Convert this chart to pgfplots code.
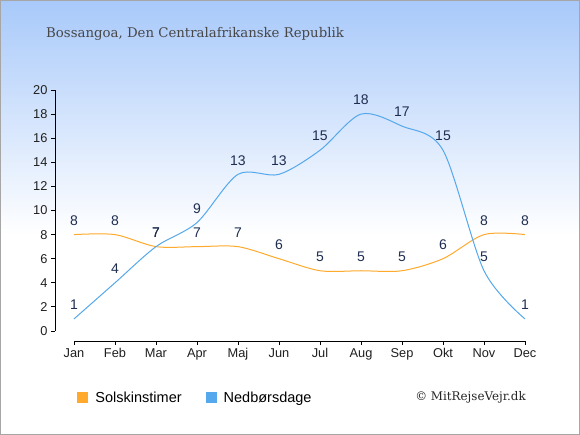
\documentclass[border=0pt]{standalone}
\usepackage{pgfplots}
\pgfplotsset{compat=1.18}
\usepackage{fontspec}
\setmainfont{Liberation Sans}
\newfontfamily\titlefont{DejaVu Serif}
\definecolor{bgtop}{RGB}{168,201,250}
\definecolor{sunline}{RGB}{255,170,45}
\definecolor{sunleg}{RGB}{255,153,0}
\definecolor{rainline}{RGB}{85,168,236}
\definecolor{rainleg}{RGB}{40,145,230}
\definecolor{lbl}{RGB}{30,45,80}
\begin{document}
\begin{tikzpicture}[x=1pt,y=1pt]
\fill[white] (0,0) rectangle (580,435);
\shade[top color=bgtop, bottom color=white] (0,200) rectangle (580,435);
\draw[gray!70, line width=1pt] (0.5,0.5) rectangle (579.5,434.5);
\node[anchor=base west, inner sep=0pt, text=black!72, font=\titlefont\fontsize{13.3}{16}\selectfont] at (46,397.5) {Bossangoa, Den Centralafrikanske Republik};
\node[anchor=east, inner sep=0pt, text=black!85, font=\titlefont\fontsize{11.9}{13}\selectfont] at (526,38) {© MitRejseVejr.dk};
\begin{axis}[
  at={(55pt,94pt)}, anchor=south west,
  scale only axis, width=470pt, height=251pt,
  xmin=-0.463, xmax=11, ymin=-0.83, ymax=20,
  axis x line*=bottom, axis y line*=left,
  axis line style={-, black, line width=0.8pt},
  x axis line style={shorten <=19pt},
  y axis line style={shorten <=10pt},
  xtick={0,...,11},
  xticklabels={Jan,Feb,Mar,Apr,Maj,Jun,Jul,Aug,Sep,Okt,Nov,Dec},
  ytick={0,2,...,20},
  tick align=outside, major tick length=4pt,
  tick style={black, line width=0.8pt},
  ticklabel style={font=\fontsize{12.8}{14}\selectfont, text=black!88},
  /pgf/number format/assume math mode=true,
  nodes near coords,
  every node near coord/.append style={anchor=center, yshift=14pt, text=lbl, font=\fontsize{14}{16}\selectfont},
  legend columns=2,
  legend style={at={(0.0474,-0.227)}, anchor=west, draw=none, fill=none, inner sep=0pt,
    font=\fontsize{14.5}{16}\selectfont,
    /tikz/every odd column/.append style={column sep=5pt},
    /tikz/every even column/.append style={column sep=22pt}},
  legend image code/.code={\fill[#1] (0pt,-5pt) rectangle (10pt,5pt);},
  clip=false,
]
\addplot[sunline, line width=1pt, smooth, tension=0.5] coordinates {
(0,8) (1,8) (2,7) (3,7) (4,7) (5,6) (6,5) (7,5) (8,5) (9,6) (10,8) (11,8)};
\addplot[rainline, line width=1pt, smooth, tension=0.5] coordinates {
(0,1) (1,4) (2,7) (3,9) (4,13) (5,13) (6,15) (7,18) (8,17) (9,15) (10,5) (11,1)};
\legend{}
\addlegendimage{fill=sunleg}
\addlegendentry{Solskinstimer}
\addlegendimage{fill=rainleg}
\addlegendentry{Nedbørsdage}
\end{axis}
\end{tikzpicture}
\end{document}
